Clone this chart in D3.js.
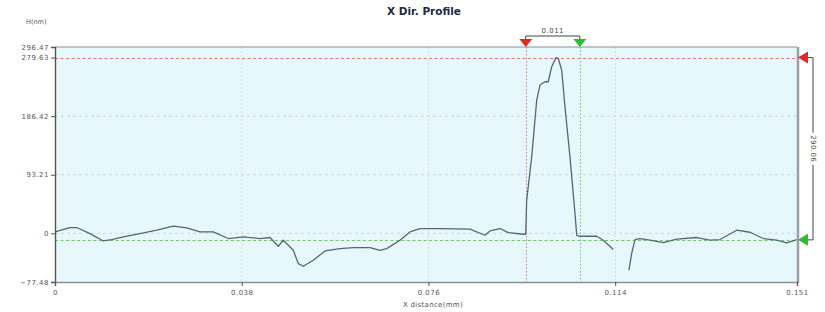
<!DOCTYPE html>
<html>
<head>
<meta charset="utf-8">
<script src="https://cdnjs.cloudflare.com/ajax/libs/d3/7.8.5/d3.min.js"></script>
<style>
  body { margin: 0; background: #fff; }
  svg { font-family: "DejaVu Sans", Verdana, sans-serif; }
</style>
</head>
<body>
<div id="chart"></div>
<script>
// profile samples, x in mm, height in nm (null = break in the trace)
const xValues = [0, 0.00305, 0.00442, 0.00712, 0.00983, 0.01152, 0.01391, 0.0173, 0.0207, 0.02407,
  0.02681, 0.02951, 0.03221, 0.03527, 0.03832, 0.04172, 0.04375, 0.04544, 0.04646, 0.0485,
  0.04951, 0.05053, 0.05256, 0.05495, 0.058, 0.06071, 0.0641, 0.06614, 0.0675, 0.07021,
  0.07224, 0.07428, 0.07835, 0.08445, 0.0875, 0.08852, 0.09056, 0.09225, 0.0953, 0.09579,
  0.09599, 0.09701, 0.09803, 0.0987, 0.09971, 0.10038, 0.10108, 0.10195, 0.10241, 0.10311,
  0.10378, 0.1048, 0.10582, 0.10617, 0.10684, 0.11024, 0.11158, 0.11362, 0.1152,
  0.1168, 0.11735, 0.11803, 0.11905, 0.12108, 0.12379, 0.12652, 0.13059, 0.13329, 0.13533,
  0.13873, 0.14143, 0.14414, 0.14687, 0.1489, 0.15094];
const hValues = [2.2, 9.2, 9.2, -0.4, -12.2, -9.9, -5.8, -0.4, 4.9, 11.3,
  8.6, 2.2, 2.2, -8.3, -5.8, -8.3, -6.7, -20.6, -11.0, -27.0,
  -48.2, -52.5, -42.9, -28.1, -24.3, -22.7, -22.7, -27.0, -24.3, -11.0,
  2.2, 7.6, 7.6, 6.5, -3.1, 3.8, 7.6, 1.2, -1.5, -1.5,
  52.7, 121.7, 212.0, 235.9, 241.2, 241.2, 265.1, 279.6, 278.5, 259.8,
  201.4, 121.7, 31.5, -3.1, -4.7, -4.7, -11.0, -25.9, null,
  -58.8, -32.2, -9.9, -8.3, -11.0, -14.7, -9.4, -6.7, -11.0, -9.9,
  4.9, 1.7, -8.3, -11.0, -15.3, -9.9];

const yTicks = [296.47, 279.63, 186.42, 93.21, 0, -77.48];
const yGrid = [186.42, 93.21, 0];
const xTicks = [0, 0.038, 0.076, 0.114, 0.151];
const xGrid = [0.038, 0.076, 0.114];

// cursors
const cursorX = [0.0958, 0.1068];   // red, green
const cursorH = [279.63, -10.43];   // red, green
const dxLabel = "0.011";
const dhLabel = "290.06";

const W = 825, H = 312;
const margin = {top: 47, right: 28, bottom: 30, left: 55};
const pw = W - margin.left - margin.right;
const ph = H - margin.top - margin.bottom;

const svg = d3.select("#chart").append("svg")
  .attr("width", W).attr("height", H);

const x = d3.scaleLinear().domain([0, 0.151]).range([margin.left, margin.left + pw]);
const y = d3.scaleLinear().domain([-77.48, 296.47]).range([margin.top + ph, margin.top]);

// plot background
svg.append("rect")
  .attr("x", x(0)).attr("y", y(296.47))
  .attr("width", pw).attr("height", ph)
  .attr("fill", "#e6f8fc");

// grid
svg.selectAll("line.hgrid").data(yGrid).enter().append("line")
  .attr("x1", x(0)).attr("x2", x(0.151))
  .attr("y1", d => y(d)).attr("y2", d => y(d))
  .attr("stroke", "#d0d6da").attr("stroke-dasharray", "3,3");
svg.selectAll("line.vgrid").data(xGrid).enter().append("line")
  .attr("x1", d => x(d)).attr("x2", d => x(d))
  .attr("y1", y(296.47)).attr("y2", y(-77.48))
  .attr("stroke", "#d0d6da").attr("stroke-dasharray", "1.5,2.5");

// cursor lines
const cColors = ["#e02828", "#2fbb2f"];
const lineColors = ["#e87070", "#66cc66"];
cursorH.forEach((h, i) => {
  svg.append("line")
    .attr("x1", x(0)).attr("x2", x(0.151))
    .attr("y1", Math.round(y(h)) + 0.5).attr("y2", Math.round(y(h)) + 0.5)
    .attr("stroke", lineColors[i]).attr("stroke-width", 1)
    .attr("stroke-dasharray", "3,2.5");
});
cursorX.forEach((cx, i) => {
  svg.append("line")
    .attr("x1", Math.round(x(cx)) + 0.5).attr("x2", Math.round(x(cx)) + 0.5)
    .attr("y1", y(296.47)).attr("y2", y(-77.48))
    .attr("stroke", lineColors[i]).attr("stroke-width", 1)
    .attr("stroke-dasharray", "1.5,2");
});

// profile trace
const pts = xValues.map((v, i) => [v, hValues[i]]);
const line = d3.line()
  .defined(d => d[1] !== null)
  .x(d => x(d[0])).y(d => y(d[1]));
svg.append("path")
  .datum(pts)
  .attr("d", line)
  .attr("fill", "none")
  .attr("stroke", "#566675")
  .attr("stroke-width", 1.3)
  .attr("stroke-linejoin", "round");

// frame
svg.append("line").attr("x1", x(0)).attr("x2", x(0.151)).attr("y1", y(296.47)).attr("y2", y(296.47))
  .attr("stroke", "#8a8f93").attr("stroke-width", 1.2);
svg.append("line").attr("x1", x(0.151) + 1).attr("x2", x(0.151) + 1).attr("y1", y(296.47)).attr("y2", y(-77.48) + 1)
  .attr("stroke", "#9a9fa3").attr("stroke-width", 2.5);

// axes
const yAxis = d3.axisLeft(y).tickValues(yTicks).tickSize(4).tickFormat(d => d === 0 ? "0" : d3.format(".2f")(d));
const gy = svg.append("g").attr("transform", `translate(${x(0)},0)`).call(yAxis);
gy.select(".domain").attr("stroke", "#555").attr("stroke-width", 1.4);
gy.selectAll(".tick line").attr("stroke", "#555");
gy.selectAll("text").attr("fill", "#555").style("font-size", "7px")
  .style("letter-spacing", "0.5px").attr("x", -6).attr("font-family", "DejaVu Sans");

const xAxis = d3.axisBottom(x).tickValues(xTicks).tickSize(4).tickFormat(d => d === 0 ? "0" : d3.format(".3f")(d));
const gx = svg.append("g").attr("transform", `translate(0,${y(-77.48)})`).call(xAxis);
gx.select(".domain").attr("stroke", "#8a8f93").attr("stroke-width", 1.6);
gx.selectAll(".tick line").attr("stroke", "#555");
gx.selectAll("text").attr("fill", "#555").style("font-size", "7px")
  .style("letter-spacing", "0.5px").attr("y", 8).attr("font-family", "DejaVu Sans");

// titles
svg.append("text").attr("x", 424).attr("y", 15).attr("text-anchor", "middle")
  .style("font-size", "10.5px").style("font-weight", "bold").attr("fill", "#1c2a44")
  .text("X Dir. Profile");
svg.append("text").attr("x", 26).attr("y", 24)
  .style("font-size", "6.5px").attr("fill", "#555").text("H(nm)");
svg.append("text").attr("x", 433).attr("y", 307).attr("text-anchor", "middle")
  .style("font-size", "7px").style("letter-spacing", "0.3px").attr("fill", "#555").text("X distance(mm)");

// top dx marker
const topY = y(296.47);
const bY = topY - 11;
svg.append("path")
  .attr("d", `M${x(cursorX[0])},${topY - 7} V${bY} H${x(cursorX[1])} V${topY - 7}`)
  .attr("fill", "none").attr("stroke", "#444").attr("stroke-width", 1);
svg.append("text").attr("x", (x(cursorX[0]) + x(cursorX[1])) / 2).attr("y", bY - 3.5)
  .attr("text-anchor", "middle").style("font-size", "7px").style("letter-spacing", "0.5px")
  .attr("fill", "#444").text(dxLabel);
cursorX.forEach((cx, i) => {
  const px = x(cx);
  svg.append("path")
    .attr("d", `M${px - 6.5},${topY - 8} L${px + 6.5},${topY - 8} L${px},${topY} Z`)
    .attr("fill", cColors[i]);
});

// right dh marker
const rX = x(0.151) + 1;
const bX = rX + 15;
svg.append("path")
  .attr("d", `M${rX + 9},${y(cursorH[0])} H${bX} V${y(cursorH[1])} H${rX + 9}`)
  .attr("fill", "none").attr("stroke", "#444").attr("stroke-width", 1);
cursorH.forEach((h, i) => {
  const py = y(h);
  svg.append("path")
    .attr("d", `M${rX + 10},${py - 6} L${rX + 10},${py + 6} L${rX},${py} Z`)
    .attr("fill", cColors[i]);
});
const midY = (y(cursorH[0]) + y(cursorH[1])) / 2;
svg.append("rect").attr("x", bX - 5).attr("y", midY - 16).attr("width", 10).attr("height", 32).attr("fill", "#fff");
svg.append("text")
  .attr("transform", `translate(${bX - 2.5},${midY}) rotate(90)`)
  .attr("text-anchor", "middle").style("font-size", "7px").style("letter-spacing", "0.4px").attr("fill", "#444")
  .text(dhLabel);
</script>
</body>
</html>
